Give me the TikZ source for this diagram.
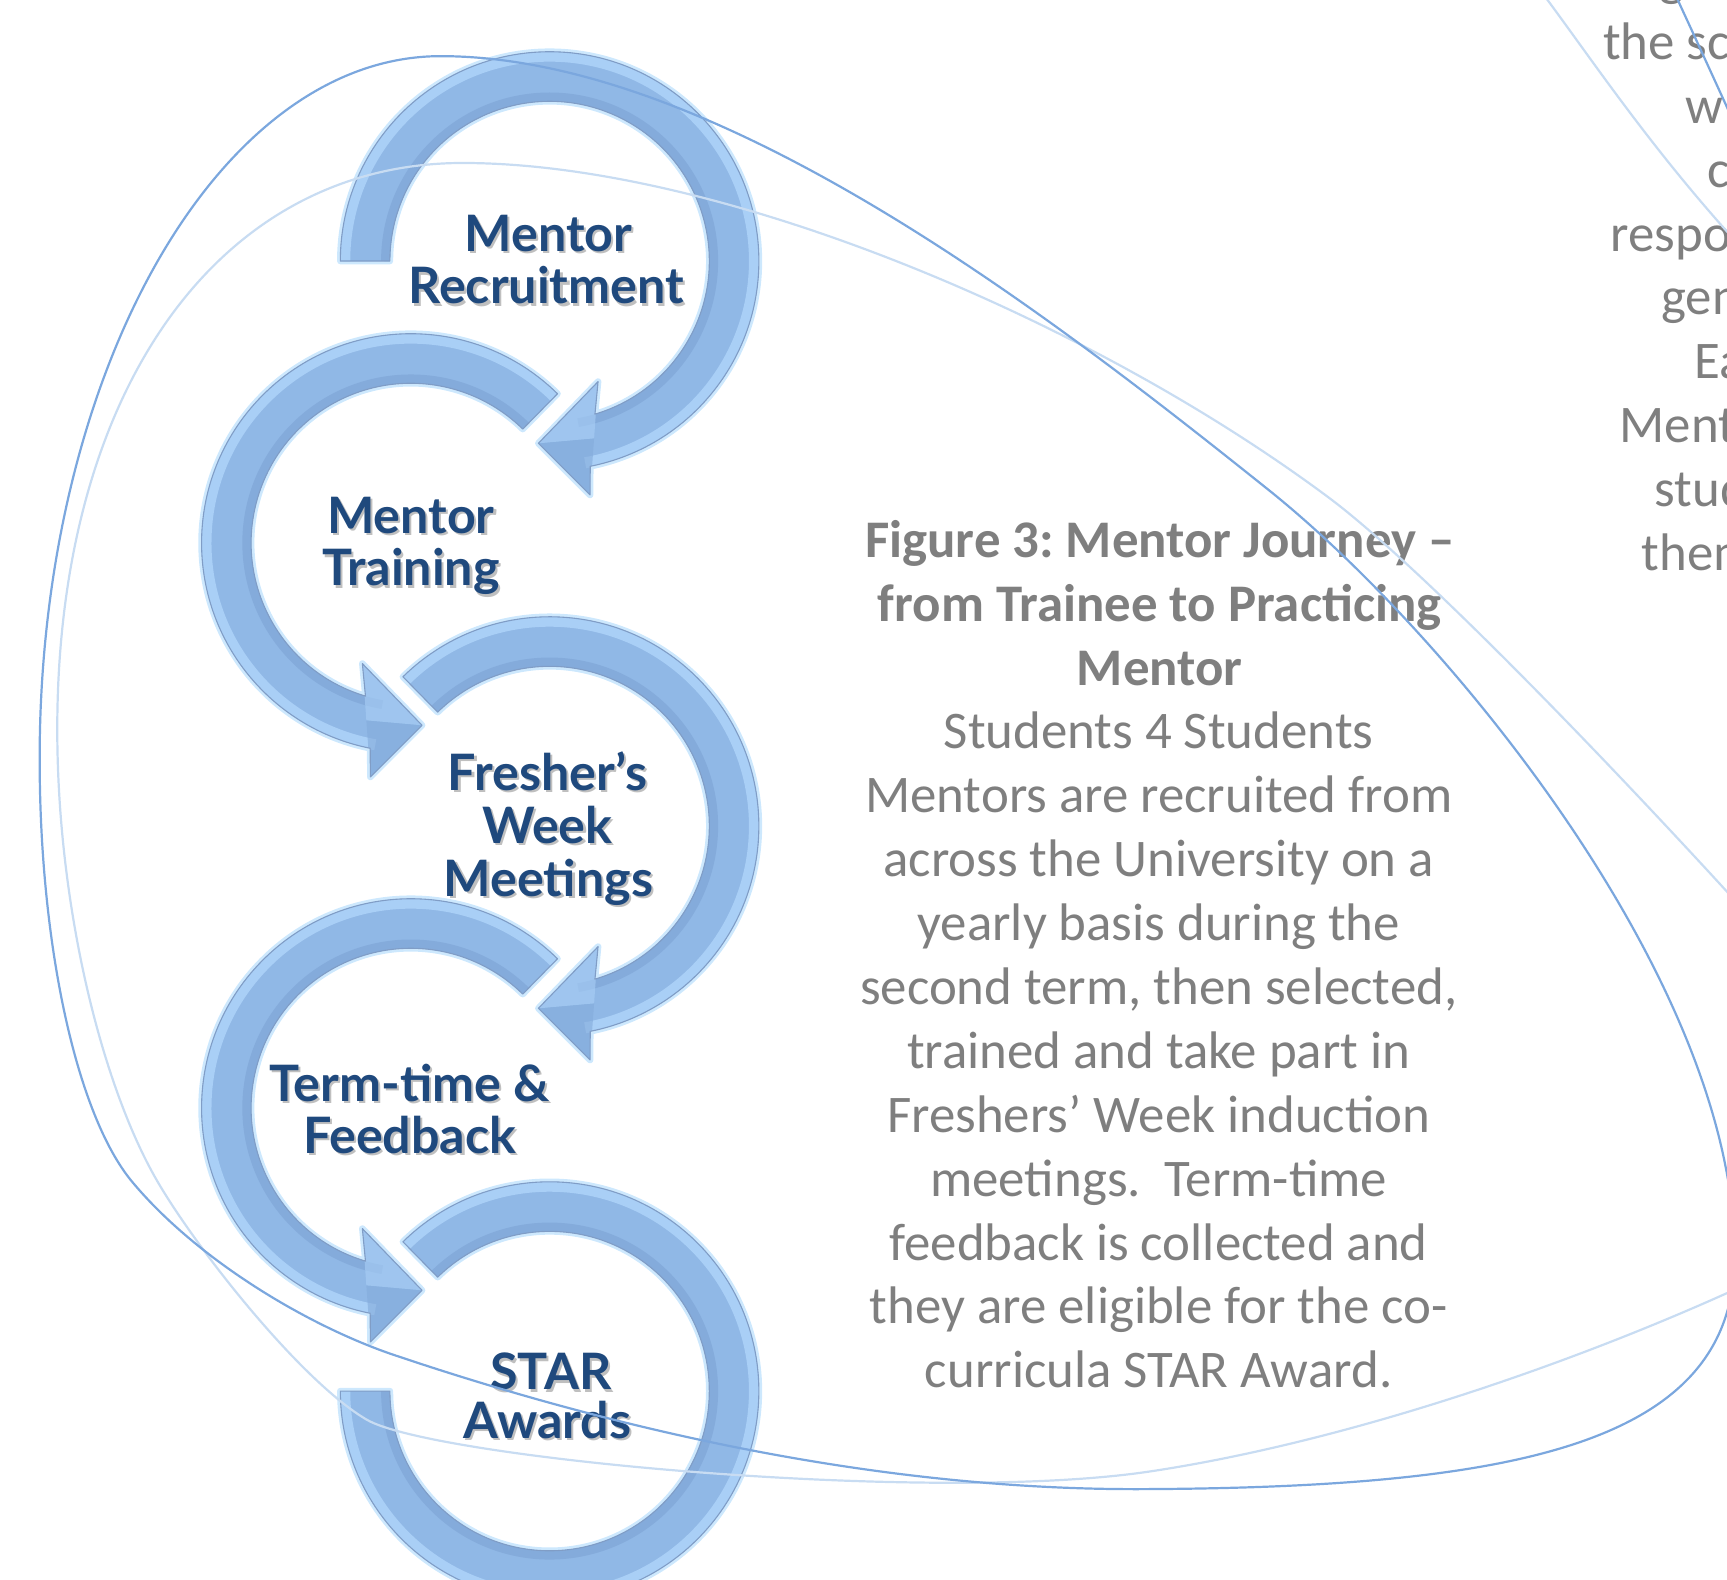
\documentclass[tikz,border=0pt]{standalone}
\usepackage{fontspec}
\setmainfont{Carlito}
\newfontfamily\lblfont{Lato}
\frenchspacing
\usetikzlibrary{calc}
\definecolor{txtgray}{HTML}{7F7F7F}
\definecolor{lblblue}{HTML}{1F497D}
\definecolor{bandA}{HTML}{90B8E6}
\definecolor{bandLight}{HTML}{A9CFF6}
\definecolor{bandDark}{HTML}{84ABDB}
\definecolor{edgeblue}{HTML}{809DC6}
\definecolor{glowblue}{HTML}{CDE8FD}
\definecolor{lineD}{HTML}{7BA7DE}
\definecolor{lineL}{HTML}{C8DCF2}

% arrow outlines (relative to the arrow centre, y upwards)
\newcommand\oddpath[1]{(#1:95pt) arc[start angle=#1, end angle=-78.8, radius=95pt] -- (36.7,-212.4) -- (-10.2,-165.5) -- (44,-109.5) -- (-73.5:72.5pt) arc[start angle=-73.5, end angle=#1, radius=72.5pt] -- cycle}
\newcommand\evenpath{(45.5:95pt) arc[start angle=45.5, end angle=258.8, radius=95pt] -- (-36.7,-212.4) -- (10.2,-165.5) -- (-44,-109.5) -- (253.5:72.5pt) arc[start angle=253.5, end angle=45.5, radius=72.5pt] -- cycle}
\newcommand\lastpath{(134.5:95pt) arc[start angle=134.5, end angle=-180, radius=95pt] -- (180:72.5pt) arc[start angle=-180, end angle=134.5, radius=72.5pt] -- cycle}

% #1 centre, #2 outline, #3 #4 angles of the body, #5 extra facets
\newcommand\drawarrow[5]{%
  \begin{scope}[shift={#1}]
    \path[glowc] #2;
    \fill[bandA] #2;
    \begin{scope}
      \clip #2;
      \draw[bandLight, line width=5pt] (#3:93pt) arc[start angle=#3, end angle=#4, radius=93pt];
      \draw[bandDark, line width=4pt] (#3:74.5pt) arc[start angle=#3, end angle=#4, radius=74.5pt];
      #5
    \end{scope}
    \path[edgec] #2;
  \end{scope}}

\newcommand\lbl[4]{%
  \node[lblshadow] (#1s) at (#2+2,#3+2) {#4};
  \node[lbltxt] (#1) at (#2,#3) {#4};}

\begin{document}
\begin{tikzpicture}[x=0.5pt,y=0.5pt,
  bodytxt/.style={font=\fontsize{24}{29}\selectfont, text=txtgray, inner sep=0pt, anchor=base},
  titletxt/.style={bodytxt, font=\fontsize{24}{29}\selectfont\bfseries},
  sidetxt/.style={bodytxt, anchor=base west},
  lbltxt/.style={font=\lblfont\bfseries\fontsize{22.8}{24}\selectfont, text=lblblue, inner sep=0pt, anchor=base},
  lblshadow/.style={lbltxt, text=black, text opacity=0.25},
  darkline/.style={draw=lineD, line width=1pt},
  lightline/.style={draw=lineL, line width=1pt},
  glowc/.style={draw=glowblue, line width=3pt, line join=round},
  edgec/.style={draw=edgeblue, line width=0.5pt, line join=round},
]
\useasboundingbox (0,0) rectangle (1568,1434);
\clip (0,0) rectangle (1568,1434);

% ---- circular arrows ----
\drawarrow{(499,1197)}{\oddpath{180}}{180}{-80}{%
  \fill[bandDark, opacity=.6] (-10.2,-165.5) -- (40.4,-161) -- (36.7,-212.4) -- cycle;
  \fill[bandLight, opacity=.6] (-10.2,-165.5) -- (44,-109.5) -- (40.4,-161) -- cycle;}
\drawarrow{(373,941)}{\evenpath}{45.5}{260}{%
  \fill[bandDark, opacity=.6] (10.2,-165.5) -- (-40.4,-161) -- (-36.7,-212.4) -- cycle;
  \fill[bandLight, opacity=.6] (10.2,-165.5) -- (-44,-109.5) -- (-40.4,-161) -- cycle;}
\drawarrow{(499,684)}{\oddpath{134.5}}{134.5}{-80}{%
  \fill[bandDark, opacity=.6] (-10.2,-165.5) -- (40.4,-161) -- (36.7,-212.4) -- cycle;
  \fill[bandLight, opacity=.6] (-10.2,-165.5) -- (44,-109.5) -- (40.4,-161) -- cycle;}
\drawarrow{(373,428)}{\evenpath}{45.5}{260}{%
  \fill[bandDark, opacity=.6] (10.2,-165.5) -- (-40.4,-161) -- (-36.7,-212.4) -- cycle;
  \fill[bandLight, opacity=.6] (10.2,-165.5) -- (-44,-109.5) -- (-40.4,-161) -- cycle;}
\drawarrow{(499,171)}{\lastpath}{134.5}{-180}{}

\begin{scope}[shift={(0,1434)}, y=-0.5pt]
% ---- labels in the arrows ----
\lbl{l1a}{498}{228}{Mentor}
\lbl{l1b}{496}{276}{Recruitment}
\lbl{l2a}{373}{484}{Mentor}
\lbl{l2b}{373}{532}{Training}
\lbl{l3a}{497}{718}{Fresher’s}
\lbl{l3b}{497}{766}{Week}
\lbl{l3c}{498}{814}{Meetings}
\lbl{l4a}{372}{1000}{Term-time \&}
\lbl{l4b}{372}{1047}{Feedback}
\lbl{l5a}{500}{1262}{STAR}
\lbl{l5b}{497}{1306}{Awards}

% ---- caption ----
\node[titletxt] (t1) at (1053,506) {Figure 3: Mentor Journey --};
\node[titletxt] (t2) at (1053,564) {from Trainee to Practicing};
\node[titletxt] (t3) at (1053,622) {Mentor};
\node[bodytxt] (b1) at (1052,680) {Students 4 Students};
\node[bodytxt] (b2) at (1052,738) {Mentors are recruited from};
\node[bodytxt] (b3) at (1052,796) {across the University on a};
\node[bodytxt] (b4) at (1052,854) {yearly basis during the};
\node[bodytxt] (b5) at (1052,912) {second term, then selected,};
\node[bodytxt] (b6) at (1052,970) {trained and take part in};
\node[bodytxt] (b7) at (1052,1028) {Freshers’ Week induction};
\node[bodytxt] (b8) at (1052,1086) {meetings.\ \ Term-time};
\node[bodytxt] (b9) at (1052,1144) {feedback is collected and};
\node[bodytxt] (b10) at (1052,1202) {they are eligible for the co-};
\node[bodytxt] (b11) at (1052,1260) {curricula STAR Award.};

% ---- right column, cut by the page edge ----
\node[sidetxt] (r0) at (1506,-4) {g};
\node[sidetxt] (r1) at (1455,54) {the sc};
\node[sidetxt] (r2) at (1530,112) {w};
\node[sidetxt] (r3) at (1550,170) {c};
\node[sidetxt] (r4) at (1462,228) {respo};
\node[sidetxt] (r5) at (1508,286) {gen};
\node[sidetxt] (r6) at (1538,344) {Ea};
\node[sidetxt] (r7) at (1470,402) {Ment};
\node[sidetxt] (r8) at (1502,460) {stud};
\node[sidetxt] (r9) at (1490,518) {them};

% ---- decorative curves ----
\coordinate (lA) at (1640,890);
\coordinate (lB) at (1640,1140);
\draw[lightline] (lA) .. controls (1580,820) and (1314,531) .. (1204,450)
  .. controls (984,287) and (650,148) .. (420,148)
  .. controls (199,148) and (52,354) .. (52,662)
  .. controls (52,822) and (92,984) .. (142,1071)
  .. controls (177,1132) and (273,1254) .. (333,1289)
  .. controls (393,1324) and (844,1366) .. (1044,1336)
  .. controls (1244,1306) and (1480,1220) .. (lB);
\coordinate (dA) at (400,51);
\draw[darkline] (dA) .. controls (650,51) and (952,285) .. (1152,445)
  .. controls (1312,573) and (1575,890) .. (1575,1140)
  .. controls (1575,1310) and (1380,1350) .. (1044,1352)
  .. controls (800,1354) and (560,1298) .. (363,1232)
  .. controls (283,1206) and (180,1145) .. (120,1073)
  .. controls (70,1013) and (36,860) .. (36,689)
  .. controls (36,337) and (199,51) .. (dA) -- cycle;
\coordinate (tA) at (1390,-20);
\coordinate (tB) at (1600,245);
\draw[lightline] (tA) .. controls (1440,45) and (1500,140) .. (tB);
\coordinate (tC) at (1514,-20);
\coordinate (tD) at (1582,128);
\draw[darkline] (tC) .. controls (1535,25) and (1560,80) .. (tD);
\end{scope}
\end{tikzpicture}
\end{document}
